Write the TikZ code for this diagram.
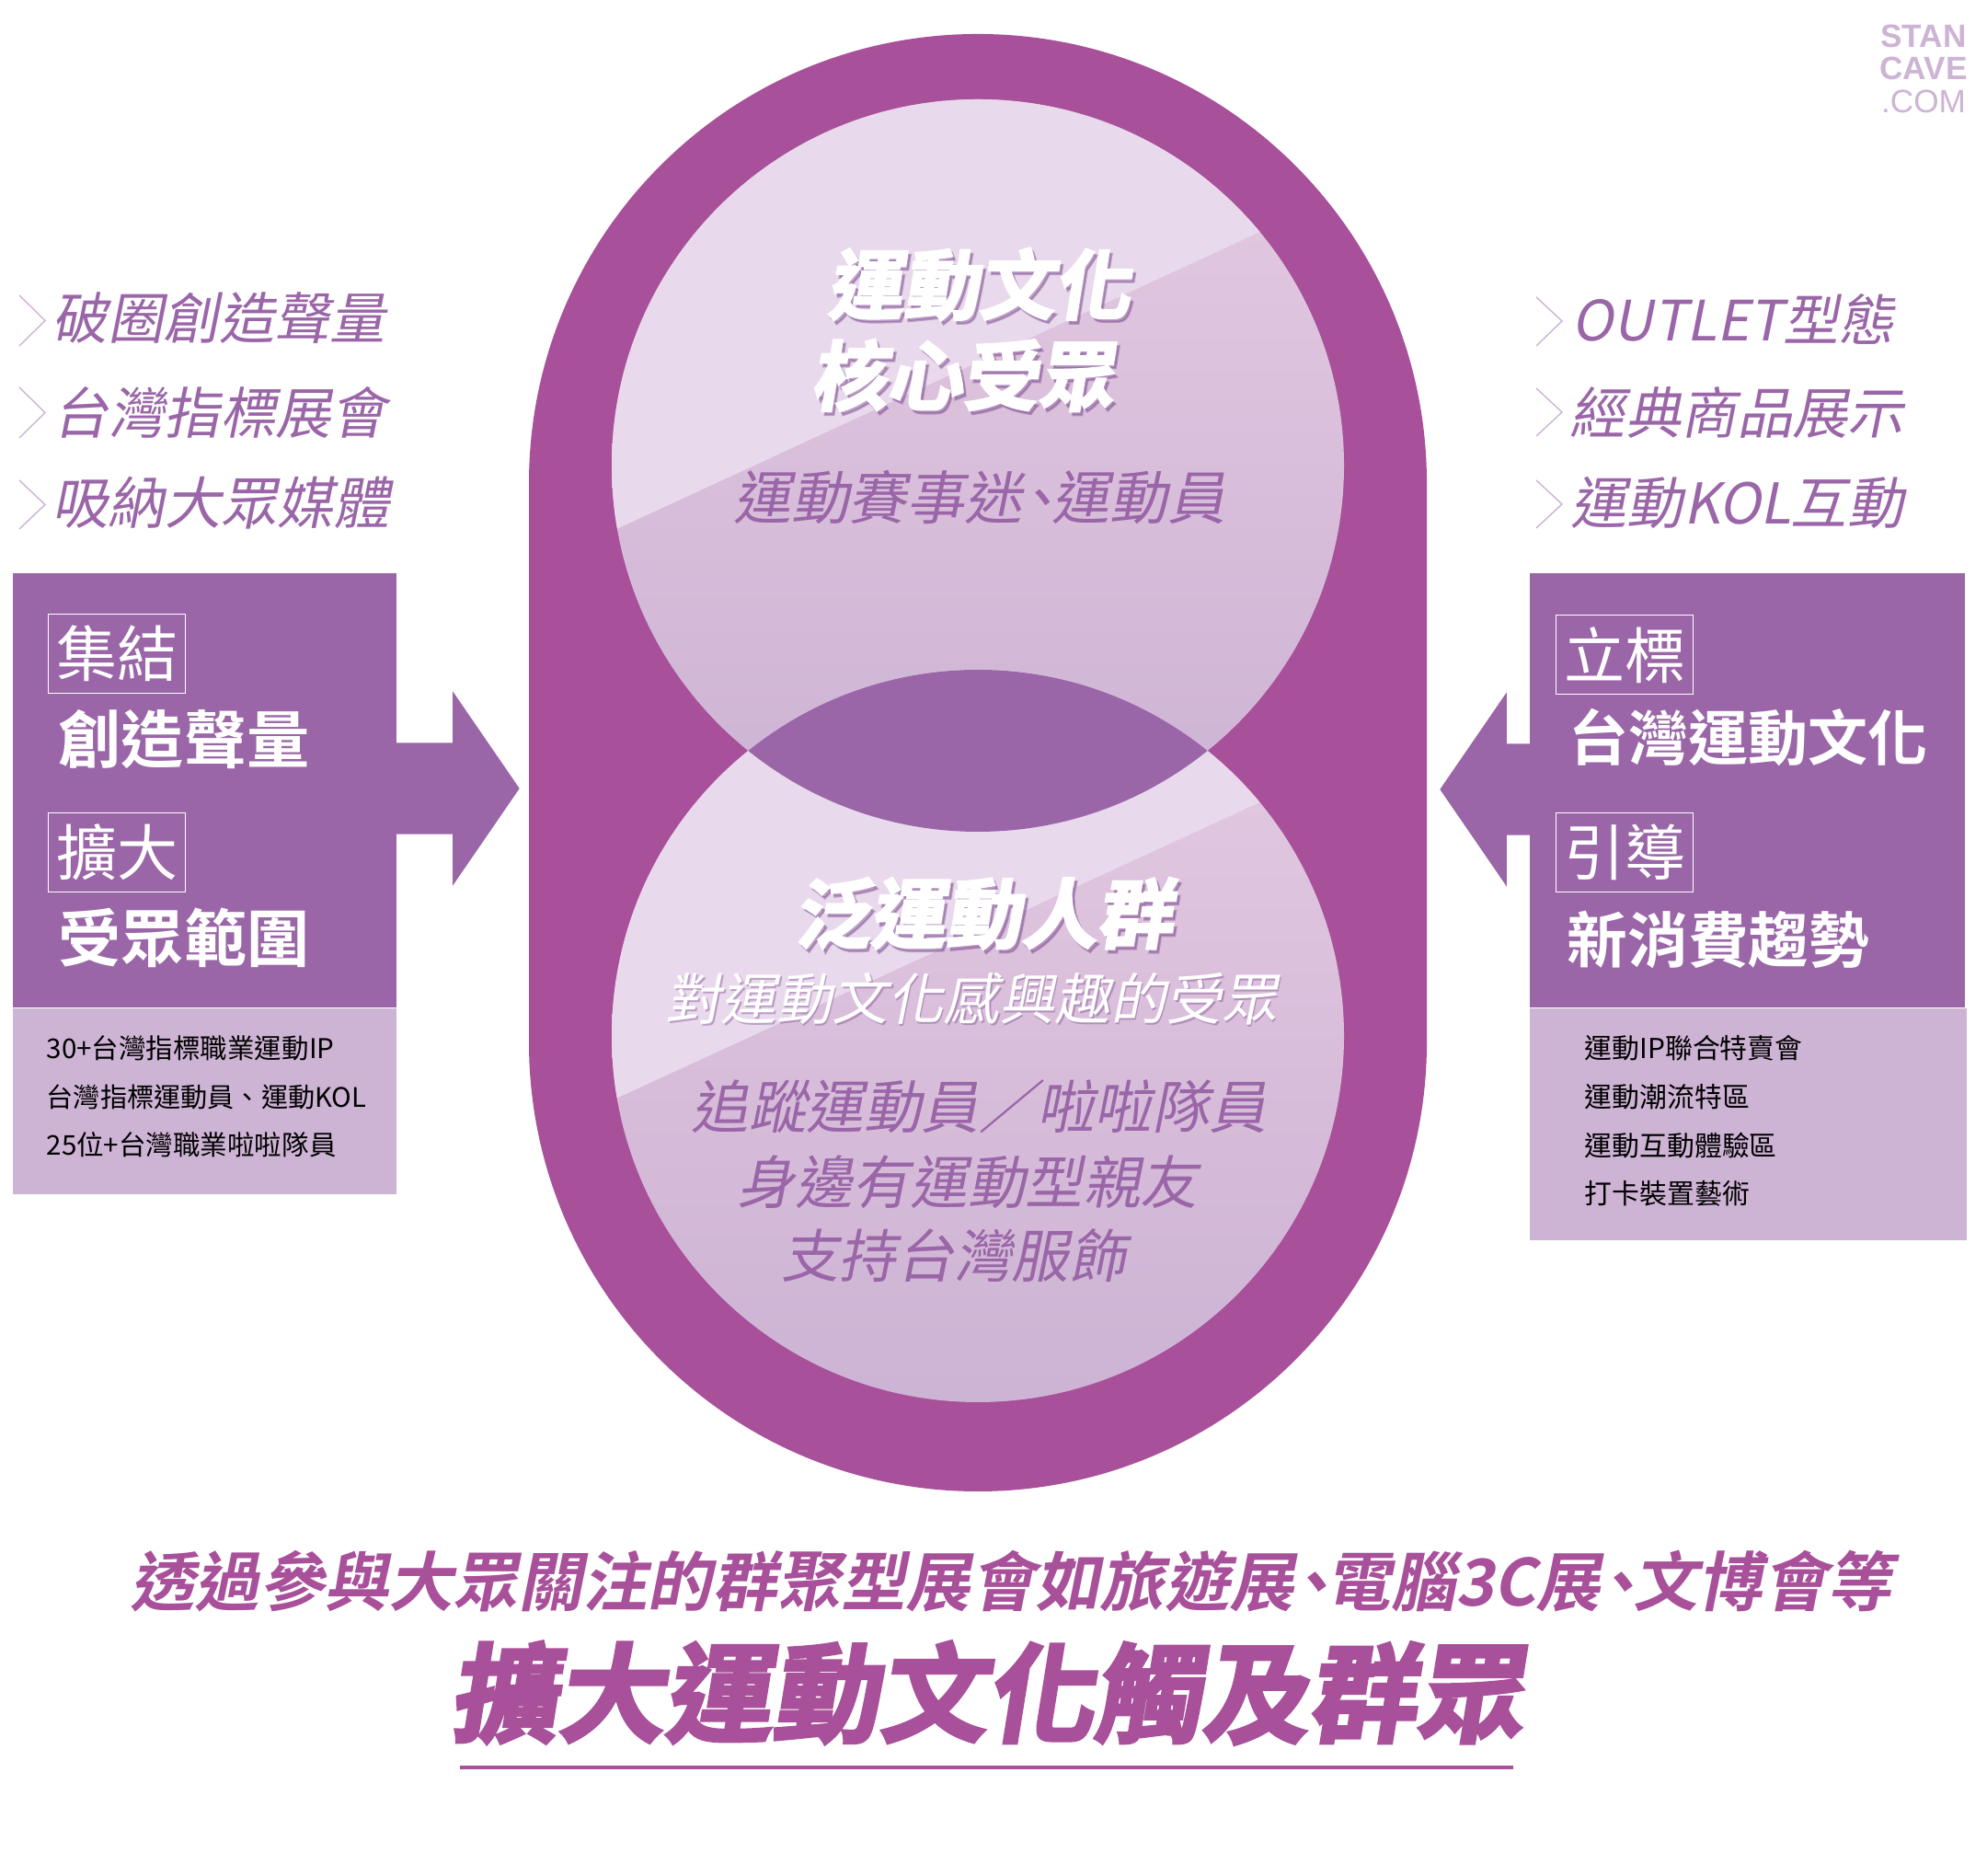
\documentclass[tikz,border=0pt]{standalone}
\usepackage{fontspec}
\setmainfont{Noto Sans CJK TC}
\setsansfont{Liberation Sans}
\newfontfamily\slantfont[FakeSlant=0.2]{Noto Sans CJK TC}
\newfontfamily\slantboldfont[FakeSlant=0.2]{Noto Sans CJK TC Bold}
\newfontfamily\heavyfont[FakeSlant=0.16,FakeBold=3]{Noto Sans CJK TC Bold}
\newfontfamily\boldfont{Noto Sans CJK TC Bold}
\usetikzlibrary{positioning,shapes.arrows}
\definecolor{ovalcolor}{RGB}{168,80,154}
\definecolor{lenscolor}{RGB}{154,102,168}
\definecolor{palecolor}{RGB}{205,179,212}
\definecolor{bandcolor}{RGB}{233,217,236}
\definecolor{fadetop}{RGB}{229,202,226}
\definecolor{shadowcolor}{RGB}{120,70,140}
\newcommand{\tightmark}{\kern-0.22em、\kern-0.28em}

\begin{document}
\begin{tikzpicture}[
		% Shape styles
		oval/.style={rectangle, rounded corners=4.88cm, minimum width=9.76cm, minimum height=15.84cm,
			fill=ovalcolor, inner sep=0pt},
		disc/.style={circle, minimum size=7.96cm, inner sep=0pt, top color=fadetop, bottom color=palecolor},
		darkbox/.style={rectangle, fill=lenscolor, inner sep=0pt, anchor=north west},
		palebox/.style={rectangle, fill=palecolor, inner sep=0pt, anchor=north west},
		tagbox/.style={rectangle, draw=white, line width=0.4pt, minimum width=1.49cm, minimum height=0.86cm,
			inner sep=0pt, anchor=north west, text=white, font=\fontsize{18.8}{20}\selectfont},
		blockarrow/.style={single arrow, fill=lenscolor, inner xsep=0pt, inner ysep=0.49cm,
			single arrow head extend=0.56cm, single arrow tip angle=111, anchor=tail},
		chevron/.style={draw=palecolor, line width=0.4pt},
		% Text styles
		pointlabel/.style={anchor=west, inner sep=0pt, text=lenscolor, font=\slantfont\fontsize{17.2}{20}\selectfont},
		boxtitle/.style={anchor=west, inner sep=0pt, text=white, font=\boldfont\fontsize{19.4}{22}\selectfont},
		listlabel/.style={anchor=west, inner sep=0pt, text=black, font=\fontsize{8.4}{10}\selectfont},
		disctitle/.style={inner sep=0pt, text=white, font=\heavyfont\fontsize{23.4}{26}\selectfont},
		discshadow/.style={inner sep=0pt, text=shadowcolor, text opacity=0.4, font=\heavyfont\fontsize{23.4}{26}\selectfont},
		disclabel/.style={inner sep=0pt, text=lenscolor, font=\slantfont\fontsize{17.8}{20}\selectfont},
		sitemark/.style={inner sep=0pt, text=palecolor}
		]
		\useasboundingbox (0,0) rectangle (21.6,20.39);
		
		% Central shape
		\node[oval] (outer_oval) at (10.63,12.10) {};
		\node[disc] (core_disc) at (10.63,15.33) {};
		\node[disc] (wide_disc) at (10.63,9.13) {};
		
		% Light bands
		\begin{scope}
			\clip (core_disc.center) circle (3.98);
			\fill[bandcolor] (5.5,14.085) -- (14.5,18.24) -- (14.5,20) -- (5.5,20) -- cycle;
		\end{scope}
		\begin{scope}
			\clip (wide_disc.center) circle (3.98);
			\fill[bandcolor] (5.5,7.90) -- (14.5,12.04) -- (14.5,13.5) -- (5.5,13.5) -- cycle;
		\end{scope}
		
		% Overlap of the discs
		\begin{scope}
			\clip (core_disc.center) circle (3.98);
			\fill[lenscolor] (wide_disc.center) circle (3.98);
		\end{scope}
		
		% Left block
		\node[blockarrow, minimum height=1.34cm] (left_arrow) at (4.30,11.82) {};
		\node[darkbox, minimum width=4.175cm, minimum height=4.72cm] (left_top) at (0.13,14.17) {};
		\node[palebox, minimum width=4.175cm, minimum height=2.02cm] (left_list) at (left_top.south west) {};
		\node[tagbox] (left_tag1) at (0.52,13.72) {集結};
		\node[boxtitle] (left_title1) at (0.63,12.35) {創造聲量};
		\node[tagbox] (left_tag2) at (0.52,11.56) {擴大};
		\node[boxtitle] (left_title2) at (0.63,10.20) {受眾範圍};
		\node[listlabel] (left_item1) at (0.50,9.00) {30+台灣指標職業運動IP};
		\node[listlabel, font=\fontsize{8.3}{10}\selectfont] (left_item2) at (0.50,8.47) {台灣指標運動員、運動KOL};
		\node[listlabel] (left_item3) at (0.50,7.95) {25位+台灣職業啦啦隊員};
		
		% Right block
		\node[blockarrow, minimum height=1.0cm, shape border rotate=180] (right_arrow) at (16.66,11.81) {};
		\node[darkbox, minimum width=4.725cm, minimum height=4.72cm] (right_top) at (16.625,14.17) {};
		\node[palebox, minimum width=4.745cm, minimum height=2.52cm] (right_list) at (right_top.south west) {};
		\node[tagbox] (right_tag1) at (16.91,13.71) {立標};
		\node[boxtitle, font=\boldfont\fontsize{18.5}{22}\selectfont] (right_title1) at (17.05,12.37) {台灣運動文化};
		\node[tagbox] (right_tag2) at (16.91,11.56) {引導};
		\node[boxtitle, font=\boldfont\fontsize{18.7}{22}\selectfont] (right_title2) at (17.03,10.18) {新消費趨勢};
		\node[listlabel, font=\fontsize{8.5}{10}\selectfont] (right_item1) at (17.22,9.00) {運動IP聯合特賣會};
		\node[listlabel, font=\fontsize{8.5}{10}\selectfont] (right_item2) at (17.22,8.465) {運動潮流特區};
		\node[listlabel, font=\fontsize{8.5}{10}\selectfont] (right_item3) at (17.22,7.94) {運動互動體驗區};
		\node[listlabel, font=\fontsize{8.5}{10}\selectfont] (right_item4) at (17.22,7.42) {打卡裝置藝術};
		
		% Left points
		\draw[chevron] (0.21,17.18) -- (0.49,16.905) -- (0.21,16.63);
		\draw[chevron] (0.21,16.18) -- (0.49,15.905) -- (0.21,15.63);
		\draw[chevron] (0.21,15.17) -- (0.49,14.905) -- (0.21,14.64);
		\node[pointlabel] (left_point1) at (0.56,16.93) {破圈創造聲量};
		\node[pointlabel] (left_point2) at (0.57,15.91) {台灣指標展會};
		\node[pointlabel, font=\slantfont\fontsize{17.4}{20}\selectfont] (left_point3) at (0.56,14.92) {吸納大眾媒體};
		
		% Right points
		\draw[chevron] (16.70,17.16) -- (16.98,16.90) -- (16.70,16.63);
		\draw[chevron] (16.70,16.17) -- (16.98,15.91) -- (16.70,15.65);
		\draw[chevron] (16.70,15.17) -- (16.98,14.91) -- (16.70,14.65);
		\node[pointlabel] (right_point1) at (17.08,16.92) {OUTLET型態};
		\node[pointlabel] (right_point2) at (17.06,15.91) {經典商品展示};
		\node[pointlabel, font=\slantfont\fontsize{17.4}{20}\selectfont] (right_point3) at (17.07,14.93) {運動KOL互動};
		
		% Disc texts
		\node[discshadow] (core_shadow1) at (10.67,17.26) {運動文化};
		\node[disctitle] (core_title1) at (10.64,17.30) {運動文化};
		\node[discshadow] (core_shadow2) at (10.49,16.27) {核心受眾};
		\node[disctitle] (core_title2) at (10.46,16.31) {核心受眾};
		\node[disclabel, font=\slantfont\fontsize{17.9}{20}\selectfont] (core_label) at (10.645,14.98) {運動賽事迷\tightmark 運動員};
		\node[discshadow] (wide_shadow) at (10.72,10.42) {泛運動人群};
		\node[disctitle] (wide_title) at (10.69,10.46) {泛運動人群};
		\node[discshadow, font=\slantfont\fontsize{17.2}{20}\selectfont] (sub_shadow) at (10.575,9.515) {對運動文化感興趣的受眾};
		\node[disclabel, text=white, font=\slantfont\fontsize{17.2}{20}\selectfont] (wide_sub) at (10.56,9.535) {對運動文化感興趣的受眾};
		\node[disclabel] (wide_label1) at (10.645,8.36) {追蹤運動員／啦啦隊員};
		\node[disclabel] (wide_label2) at (10.52,7.54) {身邊有運動型親友};
		\node[disclabel] (wide_label3) at (10.37,6.74) {支持台灣服飾};
		
		% Closing lines
		\node[inner sep=0pt, text=ovalcolor, font=\slantboldfont\fontsize{20}{22}\selectfont] (lead_line) at (10.99,3.20) {透過參與大眾關注的群聚型展會如旅遊展\tightmark 電腦3C展\tightmark 文博會等};
		\node[inner sep=0pt, text=ovalcolor, font=\heavyfont\fontsize{33.2}{36}\selectfont] (main_line) at (10.72,1.99) {擴大運動文化觸及群眾};
		\coordinate (rule_start) at (5.00,1.18);
		\coordinate (rule_end) at (16.45,1.18);
		\draw[ovalcolor, line width=1.4pt] (rule_start) -- (rule_end);
		
		% Site mark
		\node[sitemark, font=\sffamily\bfseries\fontsize{10}{12}\selectfont] (mark_top) at (20.91,20.00) {STAN};
		\node[sitemark, font=\sffamily\bfseries\fontsize{10}{12}\selectfont] (mark_mid) at (20.91,19.65) {CAVE};
		\node[sitemark, font=\sffamily\fontsize{10}{12}\selectfont] (mark_low) at (20.91,19.29) {.COM};
		
	\end{tikzpicture}
\end{document}
